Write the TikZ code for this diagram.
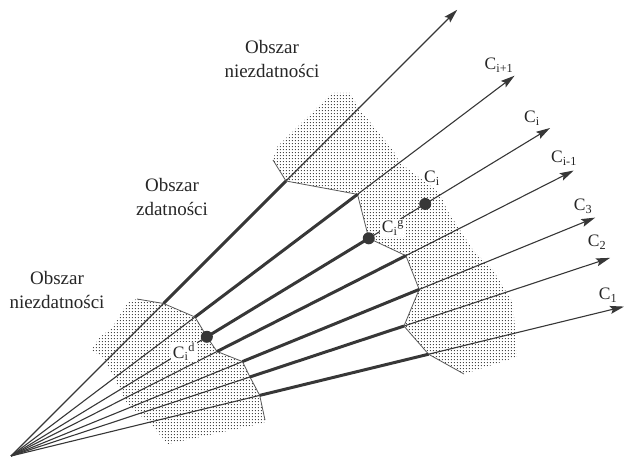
\documentclass[tikz,border=0pt]{standalone}
\usepackage{fontspec}
\setmainfont{Liberation Serif}
\usetikzlibrary{arrows.meta,calc,patterns}
\definecolor{ink}{RGB}{55,55,55}
\definecolor{rim}{RGB}{90,90,90}
\pgfdeclarepatternformonly{speckle}{\pgfpointorigin}{\pgfqpoint{3.3pt}{3.3pt}}{\pgfqpoint{3.3pt}{3.3pt}}{%
  \pgfpathcircle{\pgfqpoint{1.65pt}{1.65pt}}{0.7pt}\pgfusepath{fill}}
\tikzset{
  every picture/.style={x=1pt, y=1pt, line join=round},
  ray/.style={draw=ink, line width=1.1pt, -{Stealth[length=14pt,width=8pt,inset=2.5pt]}},
  good/.style={draw=ink, line width=3pt},
  rim/.style={draw=rim, line width=0.8pt},
  stipple/.style={pattern=speckle, pattern color=black!80},
  dot/.style={circle, fill=ink, inner sep=0pt, minimum size=12pt},
  lbl/.style={font=\fontsize{17.5}{20}\selectfont, inner sep=1pt, text=black!85},
  zone/.style={lbl, align=center, font=\fontsize{19}{24}\selectfont},
  cut/.style={lbl, fill=white, inner sep=1.5pt},
}

\begin{document}
\begin{tikzpicture}
  \useasboundingbox (0,0) rectangle (624,458);
  \coordinate (O) at (11,2);
  % rays: number / angle / inner bound / outer bound
  \foreach \n/\a/\ri/\ro in {1/45/215.7/388.9, 2/37.06/230.6/434.2, 3/31.32/229.3/418.8,
      4/26.9/231/442.8, 5/22.2/250/440.9, 6/18.3/251.7/413.9, 7/13.7/256/429.8} {
    \coordinate (t\n) at ($(O)+(\a:631)$);
    \coordinate (a\n) at ($(O)+(\a:\ri)$);
    \coordinate (b\n) at ($(O)+(\a:\ro)$);
  }
  \coordinate (as) at (137,159); \coordinate (ae) at (265,38);
  \coordinate (bs) at (273,298); \coordinate (be) at (464,84);

  % stippled areas
  \fill[stipple] (as) -- (a1) -- (a2) -- (a3) -- (a4) -- (a5) -- (a6) -- (a7) -- (ae) -- (264,35)
    -- (168,14) -- (153,31) -- (127,55) -- (120,68) -- (103,101) -- (91,108) -- (100,121)
    -- (112,130) -- (128,156) -- cycle;
  \fill[stipple] (bs) -- (277,311) -- (332,365) -- (350,365) -- (360,348) -- (393,308)
    -- (400,295) -- (440,265) -- (447,248) -- (473,208) -- (493,188) -- (513,155)
    -- (517,101) -- (be) -- (b7) -- (b6) -- (b5) -- (b4) -- (b3) -- (b2) -- (b1) -- cycle;

  \foreach \n in {1,...,7} { \draw[ray] (O) -- (t\n); }
  \draw[rim] (as) -- (a1) -- (a2) -- (a3) -- (a4) -- (a5) -- (a6) -- (a7) -- (ae);
  \draw[rim] (bs) -- (b1) -- (b2) -- (b3) -- (b4) -- (b5) -- (b6) -- (b7) -- (be);
  \foreach \n in {1,...,7} { \draw[good] (a\n) -- (b\n); }

  \node[cut] (lcd) at (184,106) {C\textsubscript{i}\textsuperscript{d}};
  \node[cut] (lcg) at (393,230) {C\textsubscript{i}\textsuperscript{g}};
  \node[dot] (cd) at (a3) {};
  \node[dot] (cg) at (b3) {};
  \node[dot] (ci) at ($(O)+(31.32:484.9)$) {};
  \node[lbl] (lci) at (432,280) {C\textsubscript{i}};

  \node[lbl] (l2) at (499,393) {C\textsubscript{i+1}};
  \node[lbl] (l3) at (532,340) {C\textsubscript{i}};
  \node[lbl] (l4) at (564,300) {C\textsubscript{i-1}};
  \node[lbl] (l5) at (583,252) {C\textsubscript{3}};
  \node[lbl] (l6) at (597,216) {C\textsubscript{2}};
  \node[lbl] (l7) at (608,163) {C\textsubscript{1}};

  \node[zone] (top) at (272,399) {Obszar\\niezdatności};
  \node[zone] (mid) at (172,261) {Obszar\\zdatności};
  \node[zone] (low) at (57,168) {Obszar\\niezdatności};
\end{tikzpicture}
\end{document}
